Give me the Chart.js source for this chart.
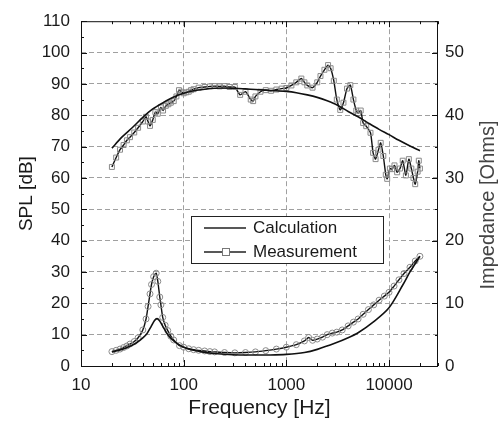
<!DOCTYPE html>
<html>
<head>
<meta charset="utf-8">
<script src="https://cdn.jsdelivr.net/npm/chart.js@4.4.1/dist/chart.umd.min.js"></script>
<style>
  html, body { margin: 0; padding: 0; background: #fff; }
  #wrap { width: 500px; height: 421px; }
</style>
</head>
<body>
<div id="wrap"><canvas id="myChart" width="500" height="421"></canvas></div>
<script>
// SPL, calculated
const freqCalc = [20, 25, 31.5, 40, 50, 63, 80, 100, 125, 160, 200, 250, 315, 400, 500, 630, 800, 1000,
    1250, 1600, 2000, 2500, 3150, 4000, 5000, 6300, 8000, 10000, 12500, 16000, 20000];
const splCalc = [69.5, 73, 76, 79.3, 82, 84, 85.8, 87, 87.8, 88.3, 88.6, 88.7, 88.6, 88.4, 88.2, 88.0, 87.8, 87.6,
    87.2, 86.5, 85.7, 84.6, 83.2, 81.2, 79.5, 77.5, 75.5, 73.8, 72, 70.2, 68.7];

// SPL, measured
const freqMeas = [20, 22, 24, 26, 28, 30, 33, 36, 40, 43, 45, 47, 50, 53, 56, 60, 63, 67, 71, 75, 80, 85, 90, 95,
    100, 106, 112, 118, 125, 140, 160, 180, 200, 224, 250, 280, 315, 355, 400, 450, 475, 500, 560, 630, 710, 800,
    900, 1000, 1120, 1250, 1400, 1500, 1600, 1800, 2000, 2150, 2350, 2550, 2700, 2900, 3100, 3350, 3600, 3900,
    4200, 4500, 4800, 5000, 5300, 5600, 6000, 6600, 7000, 7400, 7900, 8300, 8800, 9300, 9600, 10200, 10700,
    11300, 12000, 12800, 13600, 14600, 15600, 16500, 17300, 18000, 19000, 19500, 20000];
const splMeas = [63.5, 66.5, 69, 70.5, 72, 73, 74.5, 76, 78, 79.5, 78, 76.6, 78.5, 81, 80.5, 82.5, 81.5, 83, 83.5, 84,
    84.5, 86, 88, 87.5, 87, 87.3, 87.5, 88, 88.3, 88.8, 89, 89.2, 89.3, 89.2, 89.3, 89, 89, 86.5, 87.5, 85, 84.5,
    86, 87.5, 88, 87.8, 88.2, 88.5, 88.7, 89.5, 90.5, 91.7, 90.5, 89.5, 88.8, 90.5, 92.5, 94.5, 96, 95, 91, 85,
    81.7, 84, 88.5, 89.6, 85, 81.5, 80.7, 81.5, 77.5, 76.5, 74.4, 68, 66, 69, 71.2, 67, 61, 59.7, 63, 62.8,
    64, 61.8, 63, 65.5, 60.8, 66, 63, 60, 58, 62, 65.5, 63];

// impedance [Ohms], measured
const freqImpMeas = [20, 22, 24, 26, 28, 30, 33, 36, 40, 43, 45, 47, 48.6, 51, 54, 56, 58.5, 60, 62.5, 66, 70, 75,
    80, 91, 100, 112, 125, 140, 160, 180, 200, 250, 315, 400, 500, 630, 800, 1000, 1250, 1500, 1650, 1800, 2000,
    2250, 2500, 2800, 3100, 3500, 4000, 4500, 5000, 5600, 6300, 7100, 8000, 9000, 10000, 11200, 12500, 14000,
    16000, 18000, 20000];
const impMeas = [2.3, 2.5, 2.7, 2.95, 3.2, 3.5, 3.9, 4.5, 5.75, 7.5, 9.5, 11.5, 13, 14.25, 14.8, 13.5, 11, 9.75,
    7.75, 6.5, 5.65, 4.75, 4.15, 3.25, 3, 2.75, 2.6, 2.5, 2.4, 2.3, 2.25, 2.15, 2.1, 2.15, 2.25, 2.45, 2.7, 3,
    3.4, 4, 4.55, 4.1, 4.3, 4.6, 5, 5.25, 5.4, 5.75, 6.4, 7, 7.5, 8.25, 9, 9.75, 10.5, 11.15, 11.75, 12.75,
    13.75, 14.75, 15.75, 16.75, 17.5];

// impedance [Ohms], calculated
const freqImpCalc = [20, 25, 30, 35, 40, 44, 48, 52, 55, 58, 63, 70, 80, 90, 100, 125, 150, 200, 300, 500, 700,
    1000, 1500, 2000, 3000, 4000, 5000, 7000, 10000, 13700, 16000, 20000];
const impCalc = [2.25, 2.65, 3.15, 3.75, 4.5, 5.2, 6.25, 7.25, 7.55, 7.25, 6.25, 5, 4, 3.4, 3, 2.5, 2.25, 2, 1.8,
    1.75, 1.75, 1.85, 2.15, 2.65, 3.65, 4.5, 5.3, 7, 9.3, 13, 15, 17.5];

const xTicks = [10, 100, 1000, 10000];
const splTicks = [0, 10, 20, 30, 40, 50, 60, 70, 80, 90, 100, 110];
const ohmTicks = [0, 10, 20, 30, 40, 50];

const FONT = "'Liberation Sans', Arial, sans-serif";
const toXY = (xs, ys) => xs.map((x, i) => ({ x: x, y: ys[i] }));

// inward tick marks, frame, legend and right-hand title
const decorPlugin = {
    id: 'decor',
    afterDraw(chart) {
        const ctx = chart.ctx;
        const a = chart.chartArea;
        const sx = chart.scales.x, sy = chart.scales.y, sr = chart.scales.y1;
        ctx.save();
        ctx.strokeStyle = '#111';
        ctx.lineWidth = 1;
        ctx.beginPath();
        for (let d = 10; d <= 10000; d *= 10) {
            for (let m = 1; m <= 9; m++) {
                const v = d * m;
                if (v > sx.max) break;
                const px = Math.round(sx.getPixelForValue(v)) + 0.5;
                const len = m === 1 ? 6 : 3;
                ctx.moveTo(px, a.bottom); ctx.lineTo(px, a.bottom - len);
                ctx.moveTo(px, a.top); ctx.lineTo(px, a.top + len);
            }
        }
        for (let v = 0; v <= 110; v += 5) {
            const py = Math.round(sy.getPixelForValue(v)) + 0.5;
            ctx.moveTo(a.left, py); ctx.lineTo(a.left + (v % 10 === 0 ? 6 : 3), py);
        }
        for (let v = 0; v <= 55; v += 5) {
            const py = Math.round(sr.getPixelForValue(v)) + 0.5;
            ctx.moveTo(a.right, py); ctx.lineTo(a.right - (v % 10 === 0 ? 6 : 3), py);
        }
        ctx.stroke();
        ctx.strokeRect(a.left + 0.5, a.top + 0.5, a.right - a.left - 1, a.bottom - a.top);

        // legend box
        const lx = 191, ly = 216, lw = 192, lh = 47;
        ctx.fillStyle = '#fff';
        ctx.fillRect(lx, ly, lw, lh);
        ctx.strokeStyle = '#222';
        ctx.strokeRect(lx + 0.5, ly + 0.5, lw, lh);
        ctx.lineWidth = 1.5;
        ctx.beginPath();
        ctx.moveTo(204, 228); ctx.lineTo(246, 228);
        ctx.moveTo(204, 252); ctx.lineTo(246, 252);
        ctx.stroke();
        ctx.lineWidth = 1;
        ctx.strokeStyle = '#777';
        ctx.fillStyle = '#fff';
        ctx.fillRect(222, 248, 8, 8);
        ctx.strokeRect(222.5, 248.5, 7, 7);
        ctx.fillStyle = '#1a1a1a';
        ctx.font = '17px ' + FONT;
        ctx.textBaseline = 'middle';
        ctx.textAlign = 'left';
        ctx.fillText('Calculation', 253, 228);
        ctx.fillText('Measurement', 253, 252);

        // right title, reading bottom to top
        ctx.translate(488, 205);
        ctx.rotate(-Math.PI / 2);
        ctx.textAlign = 'center';
        ctx.fillStyle = '#444';
        ctx.font = '20px ' + FONT;
        ctx.fillText('Impedance [Ohms]', 0, 0);
        ctx.restore();
    }
};

const gridColor = (edge) => (c) => (c.tick && edge.includes(c.tick.value)) ? 'rgba(0,0,0,0)' : '#a0a0a0';

const ctx = document.getElementById('myChart');
new Chart(ctx, {
    type: 'line',
    data: {
        datasets: [
            {
                label: 'SPL Calculation',
                data: toXY(freqCalc, splCalc),
                yAxisID: 'y',
                borderColor: '#111',
                borderWidth: 1.6,
                pointRadius: 0,
                tension: 0.3
            },
            {
                label: 'SPL Measurement',
                data: toXY(freqMeas, splMeas),
                yAxisID: 'y',
                borderColor: '#111',
                borderWidth: 1.4,
                pointStyle: 'rect',
                pointRadius: 3.5,
                pointBorderColor: '#8a8a8a',
                pointBackgroundColor: 'rgba(255,255,255,0)',
                pointBorderWidth: 1,
                tension: 0.2
            },
            {
                label: 'Impedance Calculation',
                data: toXY(freqImpCalc, impCalc),
                yAxisID: 'y1',
                borderColor: '#111',
                borderWidth: 1.6,
                pointRadius: 0,
                tension: 0.3
            },
            {
                label: 'Impedance Measurement',
                data: toXY(freqImpMeas, impMeas),
                yAxisID: 'y1',
                borderColor: '#111',
                borderWidth: 1.4,
                pointStyle: 'circle',
                pointRadius: 3,
                pointBorderColor: '#8a8a8a',
                pointBackgroundColor: 'rgba(255,255,255,0)',
                pointBorderWidth: 1,
                tension: 0.2
            }
        ]
    },
    options: {
        responsive: false,
        animation: false,
        layout: { padding: { top: 17 } },
        plugins: { legend: { display: false }, tooltip: { enabled: false } },
        scales: {
            x: {
                type: 'logarithmic',
                min: 10,
                max: 30000,
                afterBuildTicks: (s) => { s.ticks = xTicks.map(v => ({ value: v })); },
                afterFit: (s) => { s.height = 55; },
                ticks: { color: '#1a1a1a', padding: 9, maxRotation: 0, font: { family: FONT, size: 17 },
                    callback: (v) => String(v) },
                grid: { drawTicks: false, color: gridColor([10]), lineWidth: 1 },
                border: { display: false, dash: [5, 3] },
                title: { display: true, text: 'Frequency [Hz]', color: '#1a1a1a',
                    font: { family: FONT, size: 21 }, padding: { top: 0, bottom: 0 } }
            },
            y: {
                position: 'left',
                min: 0,
                max: 110,
                afterBuildTicks: (s) => { s.ticks = splTicks.map(v => ({ value: v })); },
                afterFit: (s) => { s.width = 81; },
                ticks: { color: '#1a1a1a', padding: 11, font: { family: FONT, size: 17 } },
                grid: { drawTicks: false, color: gridColor([0, 110]), lineWidth: 1 },
                border: { display: false, dash: [5, 3] },
                title: { display: true, text: 'SPL [dB]', color: '#1a1a1a',
                    font: { family: FONT, size: 19 }, padding: { top: 15, bottom: 0 } }
            },
            y1: {
                position: 'right',
                min: 0,
                max: 55,
                afterBuildTicks: (s) => { s.ticks = ohmTicks.map(v => ({ value: v })); },
                afterFit: (s) => { s.width = 62; },
                ticks: { color: '#1a1a1a', padding: 7, font: { family: FONT, size: 17 } },
                grid: { drawOnChartArea: false, drawTicks: false },
                border: { display: false }
            }
        }
    },
    plugins: [decorPlugin]
});
</script>
</body>
</html>
